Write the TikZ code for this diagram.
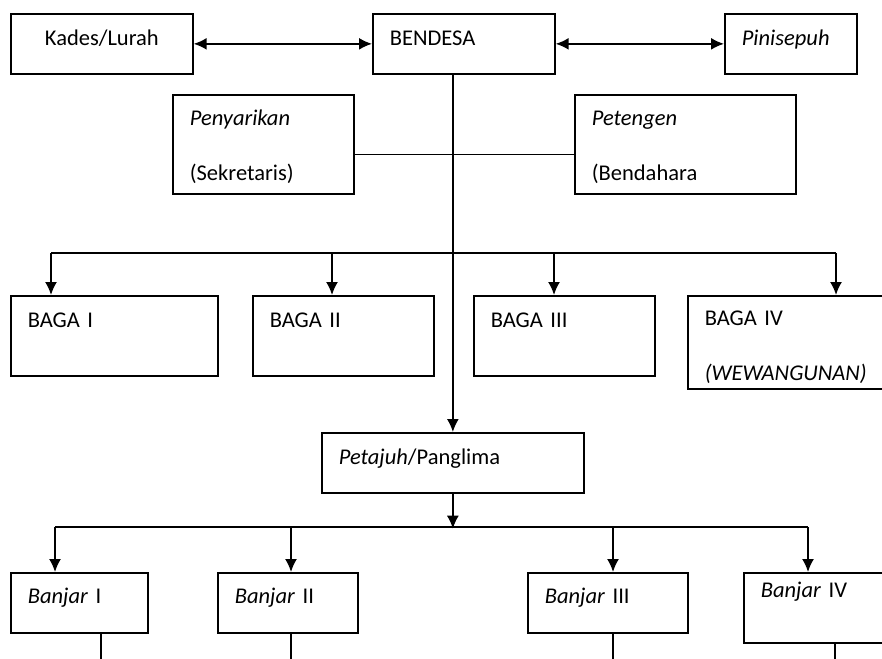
\documentclass[tikz,border=0pt]{standalone}
\usepackage{fontspec}
\setmainfont{Carlito}
\usetikzlibrary{arrows.meta,calc}
\newcommand\orgfont{\fontsize{22.5}{27}\selectfont\spaceskip=0.2em\relax}

\begin{document}
\begin{tikzpicture}[x=1pt, y=-1pt, line width=1.7pt, >={Latex[length=13pt,width=12pt]},
    every node/.style={font=\orgfont},
    unit/.style={draw, rectangle, anchor=north west, inner xsep=17pt, inner ysep=0pt},
    single/.style={unit, text height=32pt, text depth=28pt},
    double/.style={unit, text height=31pt, text depth=68pt},
    baga/.style={unit, text height=32pt, text depth=48pt},
    banjar/.style={unit, text height=31pt, text depth=29pt}]
    \clip (0,0) rectangle (882,658);
    \fill[white] (0,0) rectangle (882,658);
    % Nodes
    \node (kades) [single, align=center, text width=148pt] at (10,13) {Kades/Lurah};
    \node (bendesa) [single, text width=148pt] at (372,13) {BENDESA};
    \node (pinisepuh) [single, text width=98pt] at (724,13) {\textit{Pinisepuh}};
    \node (penyarikan) [double, text width=147pt] at (172,94) {\textit{Penyarikan}\\[28pt](Sekretaris)};
    \node (petengen) [double, text width=187pt] at (574,94) {\textit{Petengen}\\[28pt](Bendahara};
    \node (baga1) [baga, text width=173pt] at (10,295) {BAGA I};
    \node (baga2) [baga, text width=147pt] at (252,295) {BAGA II};
    \node (baga3) [baga, text width=147pt] at (473,295) {BAGA III};
    \node (baga4) [unit, text height=30pt, text depth=63pt, text width=169pt] at (687,295) {BAGA IV\\[28pt]\textit{(WEWANGUNAN)}};
    \node (petajuh) [single, text width=228pt] at (321,432) {\textit{Petajuh}/Panglima};
    \node (banjar1) [banjar, text width=103pt] at (10,572) {\textit{Banjar} I};
    \node (banjar2) [banjar, text width=106pt] at (217,572) {\textit{Banjar} II};
    \node (banjar3) [banjar, text width=126pt] at (527,572) {\textit{Banjar} III};
    \node (banjar4) [unit, text height=25pt, text depth=45pt, text width=113pt] at (743,572) {\textit{Banjar} IV};
    \coordinate (bus) at ($(petajuh.south)+(0,35)$);
    % Arrows
    \draw[<->] (kades) -- (bendesa);
    \draw[<->] (bendesa) -- (pinisepuh);
    \draw[->] (bendesa.south -| petajuh.north) -- (petajuh.north);
    \draw ($(penyarikan.east)+(0,10)$) -- ($(petengen.west)+(0,10)$);
    \draw ($(baga1.north west)+(41,-42)$) -- ($(baga4.north west)+(149,-42)$);
    \foreach \b/\dx in {baga1/41, baga2/80, baga3/81, baga4/149}
      \draw[->] ($(\b.north west)+(\dx,-42)$) -- ($(\b.north west)+(\dx,0)$);
    \draw[->] (petajuh.south) -- (bus);
    \draw ($(banjar1.north west)+(45,-45)$) -- ($(banjar4.north west)+(65,-45)$);
    \foreach \b/\dx in {banjar1/45, banjar2/74, banjar3/86, banjar4/65}
      \draw[->] ($(\b.north west)+(\dx,-45)$) -- ($(\b.north west)+(\dx,0)$);
    \foreach \b/\dx in {banjar1/91, banjar2/74, banjar3/86, banjar4/92}
      \draw ($(\b.south west)+(\dx,0)$) -- ++(0,40);
  \end{tikzpicture}
\end{document}
